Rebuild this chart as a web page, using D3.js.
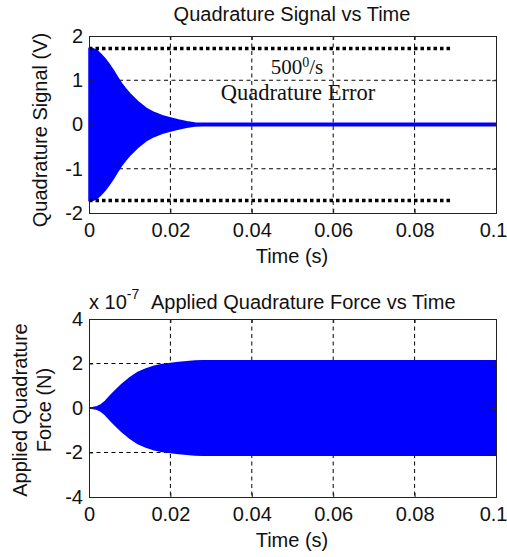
<!DOCTYPE html>
<html><head><meta charset="utf-8">
<script src="https://cdn.jsdelivr.net/npm/d3@7"></script>
<style>body{margin:0;background:#fff}svg{display:block}</style>
</head><body>
<script>
// Data (envelope amplitudes of the high-frequency oscillations)
const time = [0, 0.001, 0.002, 0.003, 0.004, 0.005, 0.006, 0.007, 0.008, 0.009, 0.010, 0.012, 0.014, 0.016, 0.018, 0.020, 0.022, 0.024, 0.026, 0.028, 0.030, 0.040, 0.050, 0.060, 0.070, 0.080, 0.090, 0.100];
const quadSignalEnv = [1.72, 1.71, 1.67, 1.58, 1.48, 1.36, 1.22, 1.07, 0.93, 0.81, 0.70, 0.52, 0.37, 0.27, 0.20, 0.15, 0.10, 0.06, 0.035, 0.03, 0.03, 0.03, 0.03, 0.03, 0.03, 0.03, 0.03, 0.03];
const quadForceEnv = [0.0, 0.02, 0.06, 0.15, 0.30, 0.50, 0.70, 0.88, 1.05, 1.20, 1.35, 1.60, 1.76, 1.88, 1.95, 2.00, 2.05, 2.08, 2.11, 2.12, 2.12, 2.12, 2.12, 2.12, 2.12, 2.12, 2.12, 2.12];
const errorBand = [1.72, -1.72];
const errorBandEnd = 0.089;
const xTicks = [0, 0.02, 0.04, 0.06, 0.08, 0.1];
const yTicksTop = [-2, -1, 0, 1, 2];
const yTicksBottom = [-4, -2, 0, 2, 4];

const W = 507, H = 557;
const svg = d3.select("body").append("svg").attr("width", W).attr("height", H);
const sans = "'Liberation Sans', Arial, sans-serif";
const serif = "'Liberation Serif', 'Times New Roman', serif";
const fs = 20;

function panel(top, bottom, yDomain, yTicks, env, opts) {
  const x = d3.scaleLinear().domain([0, 0.1]).range([89, 496]);
  const y = d3.scaleLinear().domain(yDomain).range([bottom, top]);
  const g = svg.append("g");
  // grid
  g.selectAll(".gx").data(xTicks.slice(1, -1)).join("line")
    .attr("x1", d => x(d)).attr("x2", d => x(d)).attr("y1", top).attr("y2", bottom)
    .attr("stroke", "#000").attr("stroke-width", 1).attr("stroke-dasharray", "4,3.5");
  g.selectAll(".gy").data(yTicks.slice(1, -1)).join("line")
    .attr("x1", 89).attr("x2", 496).attr("y1", d => y(d)).attr("y2", d => y(d))
    .attr("stroke", "#000").attr("stroke-width", 1).attr("stroke-dasharray", "4,3.5");
  // signal envelope
  const pts = time.map((t, i) => ({t, a: env[i]}));
  const area = d3.area().x(d => x(d.t)).y0(d => y(-d.a)).y1(d => y(d.a));
  g.append("path").datum(pts).attr("d", area).attr("fill", "#0000ff")
    .attr("stroke", "#0000ff").attr("stroke-width", 1.5);
  if (opts.band) {
    g.selectAll(".band").data(errorBand).join("line")
      .attr("x1", x(0)).attr("x2", x(errorBandEnd)).attr("y1", d => y(d)).attr("y2", d => y(d))
      .attr("stroke", "#000").attr("stroke-width", 3.5).attr("stroke-dasharray", "3.5,3");
  }
  // axes (ticks inside)
  const xa = d3.axisBottom(x).tickValues(xTicks).tickSize(-4).tickFormat(d => d === 0 ? "0" : String(+d.toFixed(2)));
  const xt = d3.axisTop(x).tickValues(xTicks).tickSize(-4).tickFormat("");
  const yl = d3.axisLeft(y).tickValues(yTicks).tickSize(-4).tickFormat(d => String(d));
  const yr = d3.axisRight(y).tickValues(yTicks).tickSize(-4).tickFormat("");
  const gx = g.append("g").attr("transform", `translate(0,${bottom})`).call(xa);
  gx.selectAll("text").attr("dy", null).attr("y", 24).attr("font-size", fs).attr("font-family", sans).attr("fill", "#111");
  gx.selectAll("text").filter(d => d === 0.1).attr("text-anchor", "end").attr("x", 11);
  g.append("g").attr("transform", `translate(0,${top})`).call(xt);
  const gy = g.append("g").attr("transform", `translate(89,0)`).call(yl);
  gy.selectAll("text").attr("x", -6).attr("font-size", fs).attr("font-family", sans).attr("fill", "#111");
  g.append("g").attr("transform", `translate(496,0)`).call(yr);
  g.selectAll(".domain").attr("stroke", "#222");
  g.selectAll(".tick line").attr("stroke", "#222");
  g.append("text").attr("x", 292).attr("y", bottom + 50).attr("text-anchor", "middle")
    .attr("font-family", sans).attr("font-size", fs).attr("fill", "#111").text("Time (s)");
  return {x, y};
}

const p1 = panel(36, 213, [-2, 2], yTicksTop, quadSignalEnv, {band: true});
const p2 = panel(319, 497, [-4, 4], yTicksBottom, quadForceEnv, {band: false});

// titles
svg.append("text").attr("x", 292).attr("y", 21).attr("text-anchor", "middle")
  .attr("font-family", sans).attr("font-size", fs).attr("fill", "#111").text("Quadrature Signal vs Time");
const t2 = svg.append("text").attr("x", 89).attr("y", 309).attr("font-family", sans).attr("font-size", fs).attr("fill", "#111");
t2.append("tspan").text("x 10");
t2.append("tspan").attr("dy", -10).attr("font-size", 14).text("-7");
t2.append("tspan").attr("x", 151).attr("y", 309).text("Applied Quadrature Force vs Time");

// y labels
svg.append("text").attr("transform", "translate(47,130) rotate(-90)").attr("text-anchor", "middle")
  .attr("font-family", sans).attr("font-size", fs).attr("fill", "#111").text("Quadrature Signal (V)");
svg.append("text").attr("transform", "translate(27,410) rotate(-90)").attr("text-anchor", "middle")
  .attr("font-family", sans).attr("font-size", fs).attr("fill", "#111").text("Applied Quadrature");
svg.append("text").attr("transform", "translate(51,410) rotate(-90)").attr("text-anchor", "middle")
  .attr("font-family", sans).attr("font-size", fs).attr("fill", "#111").text("Force (N)");

// annotation
const a1 = svg.append("text").attr("x", 297).attr("y", 74).attr("text-anchor", "middle")
  .attr("font-family", serif).attr("font-size", 21).attr("fill", "#111");
a1.append("tspan").text("500");
a1.append("tspan").attr("dy", -7).attr("font-size", 14).text("0");
a1.append("tspan").attr("dy", 7).text("/s");
svg.append("text").attr("x", 298).attr("y", 100).attr("text-anchor", "middle")
  .attr("font-family", serif).attr("font-size", 22.5).attr("fill", "#111").text("Quadrature Error");
</script>
</body></html>
